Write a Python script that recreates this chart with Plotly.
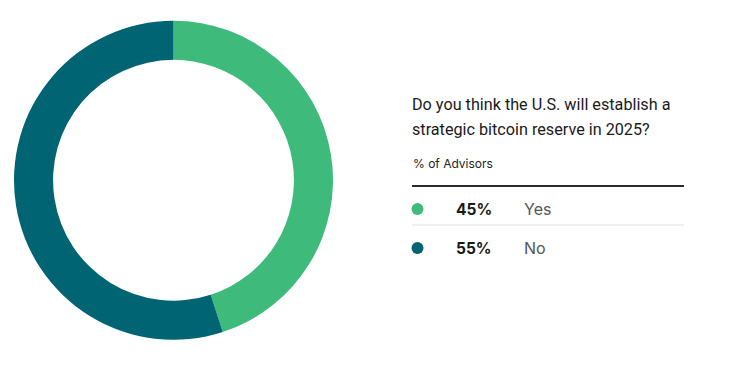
import plotly.graph_objects as go

labels = ["Yes", "No"]
values = [45, 55]
colors = ["#3EBA7A", "#016472"]
title_lines = ["Do you think the U.S. will establish a", "strategic bitcoin reserve in 2025?"]
subtitle = "% of Advisors"

W, H = 750, 375
OFF = 8  # page offset of the plot inside the browser window
def px(x):
    return (x - OFF) / W
def py(y):
    return 1 - (y - OFF) / H

fig = go.Figure(go.Pie(
    labels=labels, values=values, hole=0.755, sort=False, direction="clockwise",
    rotation=0, marker=dict(colors=colors, line=dict(width=0)),
    textinfo="none", hoverinfo="label+percent", showlegend=False,
    domain=dict(x=[px(14), px(333)], y=[py(340), py(20.5)]),
))

font_family = "Inter, 'Open Sans', sans-serif"
title_font = "Roboto, Inter, sans-serif"
annotations = []
shapes = []
for i, line in enumerate(title_lines):
    annotations.append(dict(x=px(410), y=py(104 + 26 * i), xref="paper", yref="paper",
                            text=line, showarrow=False, xanchor="left", yanchor="middle",
                            font=dict(family=title_font, size=16.2, color="#1a1a1a")))
annotations.append(dict(x=px(411), y=py(163), xref="paper", yref="paper", text=subtitle,
                        showarrow=False, xanchor="left", yanchor="middle",
                        font=dict(family=font_family, size=12, color="#222")))
shapes.append(dict(type="line", xref="paper", yref="paper", x0=px(412), x1=px(684),
                   y0=py(186), y1=py(186), line=dict(color="#2b2b2b", width=2)))

row_y = [209, 248]
for i, (lab, val, col) in enumerate(zip(labels, values, colors)):
    y = row_y[i]
    shapes.append(dict(type="circle", xref="paper", yref="paper", x0=px(411.5), x1=px(423.5),
                       y0=py(y + 6), y1=py(y - 6), fillcolor=col, line=dict(width=0)))
    annotations.append(dict(x=px(454), y=py(y), xref="paper", yref="paper", text=f"<b>{val}%</b>",
                            showarrow=False, xanchor="left", yanchor="middle",
                            font=dict(family=font_family, size=15.5, color="#1a1a1a")))
    annotations.append(dict(x=px(522), y=py(y), xref="paper", yref="paper", text=lab,
                            showarrow=False, xanchor="left", yanchor="middle",
                            font=dict(family=font_family, size=16, color="#555")))
    if i < len(labels) - 1:
        shapes.append(dict(type="line", xref="paper", yref="paper", x0=px(412), x1=px(684),
                           y0=py(225), y1=py(225), line=dict(color="#e2e2e2", width=1)))

fig.update_layout(width=W, height=H, margin=dict(l=0, r=0, t=0, b=0),
                  paper_bgcolor="white", plot_bgcolor="white",
                  annotations=annotations, shapes=shapes)
fig.write_html("out.html")
